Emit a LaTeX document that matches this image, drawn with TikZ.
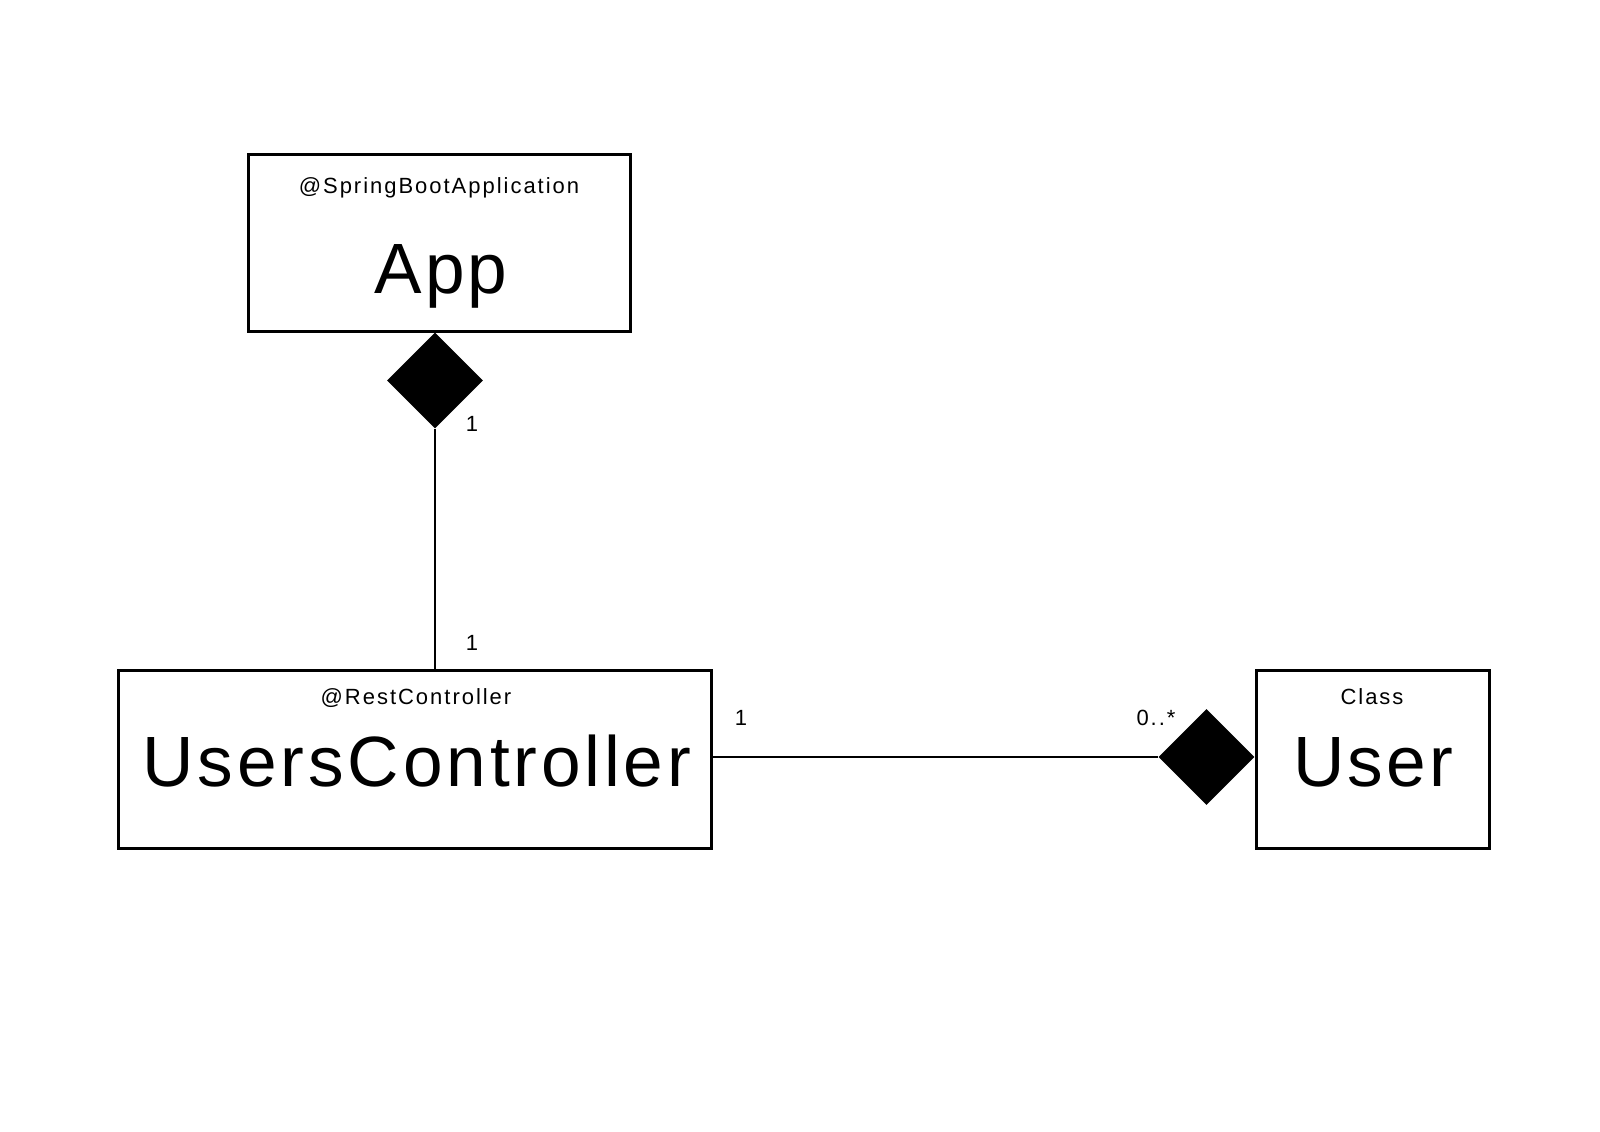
\documentclass[tikz,border=0pt]{standalone}
\usepackage{fontspec}
\setmainfont{Liberation Sans}
\newfontfamily\bigfam[LetterSpace=4.5]{Liberation Sans}
\newfontfamily\widefam[LetterSpace=5.4]{Liberation Sans}
\newfontfamily\smallfam[LetterSpace=9]{Liberation Sans}
\usetikzlibrary{shapes.geometric}
\begin{document}
\begin{tikzpicture}[x=0.5pt,y=-0.5pt,
  classbox/.style={draw=black,line width=1.5pt,fill=white,inner sep=0pt},
  comp/.style={diamond,fill=black,draw=none,inner sep=0pt,minimum width=48pt,minimum height=48pt},
  conn/.style={draw=black,line width=1pt},
  bigtxt/.style={anchor=base,inner sep=0pt,font=\bigfam\fontsize{35.6}{40}\selectfont},
  smalltxt/.style={anchor=base,inner sep=0pt,font=\smallfam\fontsize{11}{13}\selectfont},
  mult/.style={anchor=base,inner sep=0pt,font=\smallfam\fontsize{11}{13}\selectfont}]
\useasboundingbox[fill=white] (0,0) rectangle (1600,1131);
% boxes
\node[classbox,minimum width=191pt,minimum height=88.5pt] (app) at (439,242.5) {};
\node[classbox,minimum width=296.5pt,minimum height=89pt] (uc) at (414.5,759) {};
\node[classbox,minimum width=116.5pt,minimum height=89pt] (user) at (1372.5,759) {};
% texts
\node[smalltxt] (appst) at (439,193) {@SpringBootApplication};
\node[bigtxt] (appname) at (441,293) {App};
\node[smalltxt] (ucst) at (416,704) {@RestController};
\node[bigtxt,font=\widefam\fontsize{35.6}{40}\selectfont] (ucname) at (417,786) {UsersController};
\node[smalltxt] (userst) at (1372,704) {Class};
\node[bigtxt] (username) at (1373,786) {User};
% diamonds
\node[comp] (d1) at (435,380.5) {};
\node[comp] (d2) at (1206.5,757) {};
% connectors
\draw[conn] (d1.south) -- (d1.south |- uc.north);
\draw[conn] (d2.west) -- (d2.west -| uc.east);
% multiplicities
\node[mult] (m1) at (472,431) {1};
\node[mult] (m2) at (472,650) {1};
\node[mult] (m3) at (741,725) {1};
\node[mult] (m4) at (1156,725) {0..*};
\end{tikzpicture}
\end{document}
